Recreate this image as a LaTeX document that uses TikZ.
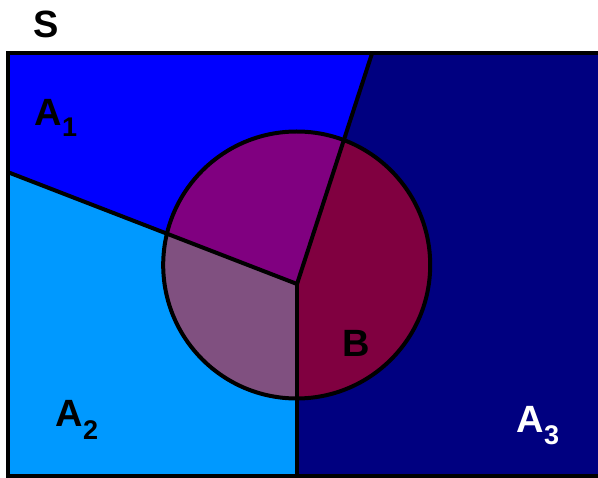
\documentclass[tikz,border=0pt]{standalone}
\usepackage{fontspec}
\setmainfont{Liberation Sans}
\definecolor{cA}{RGB}{0,0,255}
\definecolor{cB}{RGB}{0,153,255}
\definecolor{cC}{RGB}{0,0,128}
\definecolor{cAB}{RGB}{128,0,128}
\definecolor{cBB}{RGB}{128,80,128}
\definecolor{cCB}{RGB}{128,0,64}
\begin{document}
\begin{tikzpicture}[x=1pt,y=-1pt,
  edge/.style={line width=4pt,black},
  lab/.style={inner sep=0pt,anchor=base west,font=\fontsize{38}{38}\selectfont\bfseries},
  sub/.style={inner sep=0pt,anchor=base west,font=\fontsize{27}{27}\selectfont\bfseries}]
\useasboundingbox (0,0) rectangle (598,478);
\coordinate (TL) at (7.5,53.5);
\coordinate (TR) at (604,53.5);
\coordinate (BR) at (604,476);
\coordinate (BL) at (7.5,476);
\coordinate (P) at (297,284);
\coordinate (T) at (372,53.5);
\coordinate (L) at (7.5,172);
\coordinate (D) at (297,476);
\coordinate (O) at (296.7,265);
% regions
\fill[cA] (TL) -- (T) -- (P) -- (L) -- cycle;
\fill[cB] (L) -- (P) -- (D) -- (BL) -- cycle;
\fill[cC] (T) -- (TR) -- (BR) -- (D) -- (P) -- cycle;
\begin{scope}
  \clip (O) circle[radius=133.5];
  \fill[cAB] (TL) -- (T) -- (P) -- (L) -- cycle;
  \fill[cBB] (L) -- (P) -- (D) -- (BL) -- cycle;
  \fill[cCB] (T) -- (TR) -- (BR) -- (D) -- (P) -- cycle;
\end{scope}
% lines
\draw[edge] (T) -- (P);
\draw[edge] (L) -- (P);
\draw[edge] (P) -- (D);
\draw[edge] (O) circle[radius=133.5];
\draw[edge] (TR) -- (TL) -- (BL) -- (BR);
% labels
\node[lab] (s) at (33,38) {S};
\node[lab] (a1) at (34,126) {A};
\node[sub] (a1s) at (a1.base east) [yshift=-11pt] {1};
\node[lab] (a2) at (55,427) {A};
\node[sub] (a2s) at (a2.base east) [yshift=-13pt] {2};
\node[lab,text=white] (a3) at (516,433) {A};
\node[sub,text=white] (a3s) at (a3.base east) [yshift=-12pt] {3};
\node[lab] (b) at (342,357) {B};
\end{tikzpicture}
\end{document}
